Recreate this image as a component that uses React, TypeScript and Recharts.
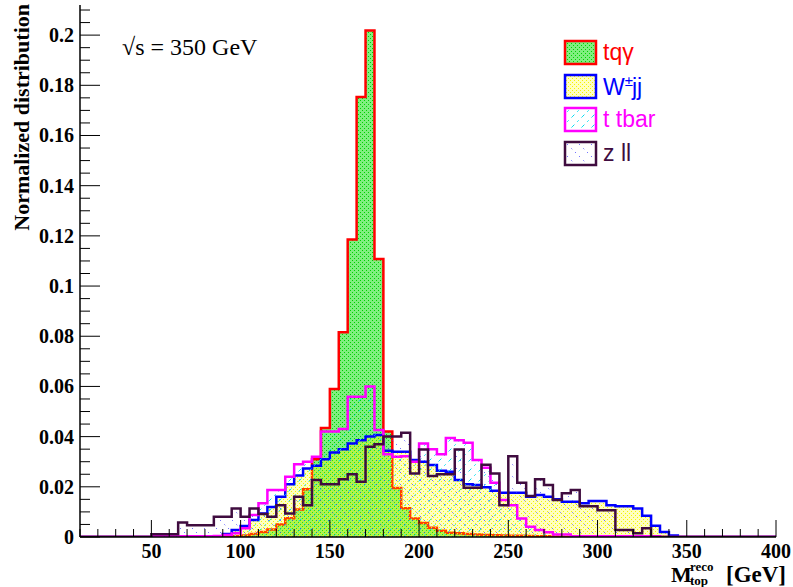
import { Area, ComposedChart, Legend, XAxis, YAxis } from 'recharts';

// lower edge of each 5 GeV bin, 10 .. 395
const binLow = Array.from({ length: 78 }, (_, i) => 10 + 5 * i);

// normalized bin contents (one value per bin in binLow)
const tqaValues = [
  0, 0, 0, 0, 0, 0, 0, 0, 0, 0,
  0, 0, 0, 0, 0, 0, 0, 0.0003, 0.0006, 0.0012,
  0.002, 0.003, 0.005, 0.0075, 0.011, 0.019, 0.031, 0.0434, 0.059, 0.0816,
  0.1186, 0.1753, 0.2018, 0.1108, 0.042, 0.0195, 0.0115, 0.0074, 0.0056, 0.0037,
  0.0025, 0.0017, 0.0015, 0.0012, 0.001, 0.0008, 0.0007, 0.0006, 0.0005, 0.0005,
  0.0004, 0.0003, 0.0003, 0.0002, 0, 0, 0, 0, 0, 0,
  0, 0, 0, 0, 0, 0, 0, 0, 0, 0,
  0, 0, 0, 0, 0, 0, 0, 0,
];
const wjjValues = [
  0, 0, 0, 0, 0, 0, 0, 0, 0, 0,
  0, 0, 0, 0, 0, 0.0003, 0.0012, 0.0028, 0.0044, 0.0068,
  0.0094, 0.012, 0.016, 0.021, 0.0245, 0.0273, 0.0284, 0.031, 0.0337, 0.035,
  0.0373, 0.0386, 0.04, 0.0406, 0.0344, 0.034, 0.034, 0.0307, 0.03, 0.0287,
  0.0264, 0.026, 0.0227, 0.021, 0.0207, 0.0198, 0.0184, 0.0176, 0.0176, 0.0176,
  0.016, 0.0167, 0.016, 0.015, 0.014, 0.014, 0.0134, 0.0143, 0.0143, 0.0127,
  0.0123, 0.0123, 0.0114, 0.0085, 0.0045, 0.002, 0.0006, 0, 0, 0,
  0, 0, 0, 0, 0, 0, 0, 0,
];
const ttbarValues = [
  0, 0, 0, 0, 0, 0, 0, 0, 0.0003, 0.0003,
  0.0003, 0.0003, 0.0003, 0.0003, 0.0003, 0.0004, 0.0008, 0.0015, 0.0035, 0.0088,
  0.0134, 0.0187, 0.0187, 0.024, 0.029, 0.03, 0.032, 0.042, 0.042, 0.043,
  0.0559, 0.0559, 0.06, 0.0426, 0.033, 0.032, 0.0322, 0.03, 0.0373, 0.035,
  0.033, 0.0395, 0.0386, 0.0376, 0.0307, 0.0276, 0.0216, 0.0147, 0.0127, 0.0074,
  0.0041, 0.0028, 0.0019, 0.001, 0.001, 0.0003, 0.0003, 0.0003, 0.0003, 0.0003,
  0.0003, 0.0003, 0.0003, 0.0003, 0.0003, 0, 0, 0, 0, 0,
  0, 0, 0, 0, 0, 0, 0, 0,
];
const zllValues = [
  0, 0, 0, 0, 0, 0, 0, 0, 0.0011, 0.0011,
  0.0011, 0.0058, 0.0047, 0.0047, 0.0047, 0.0081, 0.0081, 0.0114, 0.0081, 0.0114,
  0.0092, 0.0081, 0.0127, 0.0094, 0.016, 0.0127, 0.0227, 0.021, 0.021, 0.023,
  0.025, 0.022, 0.036, 0.037, 0.04, 0.04, 0.0415, 0.0253, 0.0349, 0.0243,
  0.025, 0.025, 0.0349, 0.0196, 0.0196, 0.0288, 0.0253, 0.0127, 0.0322, 0.0216,
  0.0163, 0.023, 0.0207, 0.0147, 0.0174, 0.0187, 0.0123, 0.0123, 0.0107, 0.0107,
  0.0028, 0.0028, 0.0015, 0.0035, 0, 0, 0, 0, 0, 0,
  0, 0, 0, 0, 0, 0, 0, 0,
];

const xTicks = Array.from({ length: 40 }, (_, i) => 10 + 10 * i);
const yTicks = Array.from({ length: 43 }, (_, i) => +(i * 0.005).toFixed(3));

const series = [
  { key: 'tqa', label: 'tqγ', stroke: '#ff0000', pattern: 'pat-tqa' },
  { key: 'wjj', label: 'W±jj', stroke: '#0000ff', pattern: 'pat-wjj' },
  { key: 'ttbar', label: 't tbar', stroke: '#ff00ff', pattern: 'pat-ttbar' },
  { key: 'zll', label: 'z ll', stroke: '#3f0c3f', pattern: 'pat-zll' },
];

// stepAfter needs a closing point at the upper edge of the last bin
const rows = [
  ...binLow.map((x, i) => ({
    x,
    tqa: tqaValues[i],
    wjj: wjjValues[i],
    ttbar: ttbarValues[i],
    zll: zllValues[i],
  })),
  { x: 400, tqa: 0, wjj: 0, ttbar: 0, zll: 0 },
];

const serif = '"Liberation Serif", "Times New Roman", serif';
const tickFont = { fontFamily: serif, fontWeight: 700, fontSize: 20 };

const isMajorX = (v: number) => v % 50 === 0;
const isMajorY = (v: number) => Math.round(v * 1000) % 20 === 0;
const fmtY = (v: number) => String(Number(v.toFixed(3)));

function BottomTick({ x, y, payload }: any) {
  const v = payload.value;
  const major = isMajorX(v);
  return (
    <g>
      <line x1={x} x2={x} y1={y} y2={y - (major ? 17 : 8)} stroke="#000" />
      {major && (
        <text x={x} y={y + 21} textAnchor="middle" fill="#000" style={tickFont}>
          {v}
        </text>
      )}
    </g>
  );
}

function TopTick({ x, y, payload }: any) {
  const major = isMajorX(payload.value);
  return <line x1={x} x2={x} y1={y} y2={y + (major ? 15 : 8)} stroke="#000" />;
}

function LeftTick({ x, y, payload }: any) {
  const v = payload.value;
  const major = isMajorY(v);
  return (
    <g>
      <line x1={x} x2={x + (major ? 20 : 10)} y1={y} y2={y} stroke="#000" />
      {major && (
        <text x={x - 6} y={y + 7} textAnchor="end" fill="#000" style={tickFont}>
          {fmtY(v)}
        </text>
      )}
    </g>
  );
}

function RightTick({ x, y, payload }: any) {
  const major = isMajorY(payload.value);
  return <line x1={x} x2={x - (major ? 20 : 10)} y1={y} y2={y} stroke="#000" />;
}

function HistLegend({ payload }: any) {
  const keys = (payload ?? []).map((p: any) => p.dataKey);
  const items = series.filter((s) => keys.includes(s.key));
  return (
    <div style={{ fontFamily: '"Liberation Sans", Arial, sans-serif', fontSize: 23 }}>
      {items.map((s) => (
        <div key={s.key} style={{ display: 'flex', alignItems: 'center', height: 33.5, color: s.stroke }}>
          <svg width={35} height={27}>
            <rect x={2} y={2} width={31} height={23} fill={`url(#${s.pattern})`} stroke={s.stroke} strokeWidth={2.5} />
          </svg>
          <span style={{ marginLeft: 5, lineHeight: 1 }}>
            {s.key === 'wjj' ? (
              <>
                W<sup style={{ fontSize: '0.65em', marginRight: -1 }}>±</sup>jj
              </>
            ) : (
              s.label
            )}
          </span>
        </div>
      ))}
    </div>
  );
}

const axisLine = { stroke: '#000', strokeWidth: 1.5 };

export default function App() {
  return (
    <div style={{ position: 'absolute', left: 0, top: 0, width: 793, height: 587, background: '#fff' }}>
      <ComposedChart width={793} height={587} data={rows} margin={{ top: 5, right: 17, bottom: 0, left: 0 }}>
        <defs>
          <pattern id="pat-tqa" width={4} height={4} patternUnits="userSpaceOnUse">
            <rect x={0} y={0} width={4} height={4} fill="#00e000" fillOpacity={0.5} />
            <rect x={0} y={0} width={1} height={1} fill="#00d000" />
            <rect x={2} y={2} width={1} height={1} fill="#00d000" />
          </pattern>
          <pattern id="pat-wjj" width={4} height={4} patternUnits="userSpaceOnUse">
            <rect x={0} y={0} width={4} height={4} fill="#ffff00" fillOpacity={0.25} />
            <rect x={1} y={1} width={1} height={1} fill="#f5f500" />
            <rect x={3} y={3} width={1} height={1} fill="#f5f500" />
          </pattern>
          <pattern id="pat-ttbar" width={10} height={10} patternUnits="userSpaceOnUse">
            <line x1={0} y1={10} x2={10} y2={0} stroke="#00dcf0" strokeWidth={1} strokeDasharray="2 4" />
          </pattern>
          <pattern id="pat-zll" width={12} height={12} patternUnits="userSpaceOnUse">
            <line x1={0} y1={0} x2={12} y2={12} stroke="#3a3aff" strokeWidth={1} strokeDasharray="1 5" />
          </pattern>
        </defs>
        <XAxis
          xAxisId="b"
          dataKey="x"
          type="number"
          domain={[10, 400]}
          ticks={xTicks}
          interval={0}
          allowDataOverflow
          height={50}
          tickSize={0}
          tickMargin={0}
          tickLine={false}
          axisLine={axisLine}
          tick={(p: any) => <BottomTick {...p} />}
        />
        <XAxis
          xAxisId="t"
          orientation="top"
          dataKey="x"
          type="number"
          domain={[10, 400]}
          ticks={xTicks}
          interval={0}
          allowDataOverflow
          height={0}
          tickSize={0}
          tickMargin={0}
          tickLine={false}
          axisLine={axisLine}
          tick={(p: any) => <TopTick {...p} />}
        />
        <YAxis
          yAxisId="l"
          type="number"
          domain={[0, 0.212]}
          ticks={yTicks}
          interval={0}
          allowDataOverflow
          width={80}
          tickSize={0}
          tickMargin={0}
          tickLine={false}
          axisLine={axisLine}
          tick={(p: any) => <LeftTick {...p} />}
        />
        <YAxis
          yAxisId="r"
          orientation="right"
          type="number"
          domain={[0, 0.212]}
          ticks={yTicks}
          interval={0}
          allowDataOverflow
          width={0}
          tickSize={0}
          tickMargin={0}
          tickLine={false}
          axisLine={axisLine}
          tick={(p: any) => <RightTick {...p} />}
        />
        {series.map((s) => (
          <Area
            key={s.key}
            xAxisId="b"
            yAxisId="l"
            type="stepAfter"
            dataKey={s.key}
            name={s.label}
            stroke={s.stroke}
            strokeWidth={2.5}
            fill={`url(#${s.pattern})`}
            fillOpacity={1}
            dot={false}
            activeDot={false}
            isAnimationActive={false}
          />
        ))}
        <Legend
          layout="vertical"
          align="center"
          verticalAlign="middle"
          content={(p: any) => <HistLegend {...p} />}
          wrapperStyle={{ left: 563, top: 36, width: 150, height: 140 }}
        />
      </ComposedChart>
      <svg
        width={793}
        height={587}
        style={{ position: 'absolute', left: 0, top: 0, pointerEvents: 'none' }}
      >
        <text
          transform="translate(29, 4) rotate(-90)"
          textAnchor="end"
          fill="#000"
          style={{ ...tickFont, fontSize: 22 }}
        >
          Normalized distribution
        </text>
        <text x={122} y={55} fill="#000" style={{ fontFamily: serif, fontSize: 24 }}>
          √s = 350 GeV
        </text>
        <text x={671} y={582} fill="#000" style={{ ...tickFont, fontSize: 22 }}>
          M
        </text>
        <text x={690} y={571} fill="#000" style={{ ...tickFont, fontSize: 13 }}>
          reco
        </text>
        <text x={690} y={585} fill="#000" style={{ ...tickFont, fontSize: 13 }}>
          top
        </text>
        <text x={786} y={582} textAnchor="end" fill="#000" style={{ ...tickFont, fontSize: 23 }}>
          [GeV]
        </text>
      </svg>
    </div>
  );
}
